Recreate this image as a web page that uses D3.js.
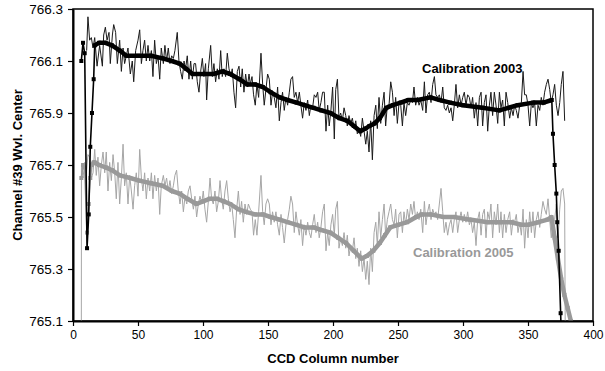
<!DOCTYPE html>
<html>
<head>
<meta charset="utf-8">
<script src="https://cdn.jsdelivr.net/npm/d3@7"></script>
<style>
  body { margin: 0; background: #fff; }
  svg { display: block; font-family: "Liberation Sans", Arial, sans-serif; }
</style>
</head>
<body>
<svg id="chart" width="605" height="371"></svg>
<script>
// x ticks / y ticks
const xTicks = [0, 50, 100, 150, 200, 250, 300, 350, 400];
const yTicks = [765.1, 765.3, 765.5, 765.7, 765.9, 766.1, 766.3];

// Calibration 2003, raw (column, center)
const raw2003 = [
  [10.5,766.14],[11.5,766.27],[12.8,766.18],[14.1,766.19],[15.4,766.15],[16.7,766.19],[18.5,766.08],[20.5,766.16],[22.6,766.08],[23.6,766.20],
  [24.9,766.23],[26.2,766.18],[27.7,766.21],[28.7,766.09],[30.3,766.20],[31.3,766.24],[32.8,766.21],[34.1,766.09],[35.9,766.18],[37.2,766.06],
  [38.5,766.15],[39.7,766.09],[41,766.12],[42.3,766.15],[44.1,766.05],[45.6,766.10],[46.7,766.02],[48.2,766.14],[50,766.18],[51.3,766.22],
  [52.6,766.09],[53.8,766.14],[55.1,766.18],[56.4,766.10],[57.7,766.16],[59,766.10],[60.3,766.14],[61.5,766.04],[62.8,766.18],[64.1,766.09],
  [65.4,766.12],[66.7,766.03],[67.9,766.15],[69.5,766.09],[70.7,766.16],[72,766.10],[73.3,766.15],[74.6,766.09],[75.9,766.12],[77.2,766.11],
  [78.4,766.14],[80.2,766.21],[81.5,766.10],[82.8,766.06],[84.1,766.03],[85.4,766.10],[86.6,766.07],[87.9,766.12],[89.2,766.03],[90.5,766.10],
  [91.8,766.03],[93.1,766.09],[94.3,766.09],[95.6,766.02],[96.9,765.98],[98.2,766.06],[99.5,766.11],[100.7,766.04],[102,766.09],[102.8,765.95],
  [104.1,766.07],[105.9,766.16],[107.2,766.04],[108.4,766.09],[109.7,766.02],[111,766.07],[112.3,766.03],[113.6,766.14],[114.8,766.04],[116.1,766.07],
  [117.4,766.04],[118.7,766.13],[120,766.07],[121.3,766.04],[122.5,766.07],[123.8,765.98],[125.1,765.92],[126.4,766.06],[127.7,766.08],[129,766.00],
  [130.2,766.07],[131.5,765.98],[132.8,766.05],[134.1,766.00],[135.4,766.05],[136.4,766.01],[137.7,766.04],[138.9,765.97],[140.2,765.93],[141.5,766.01],
  [142.8,765.96],[144.6,766.13],[145.9,766.01],[147.1,765.93],[148.4,765.99],[149.7,766.05],[151,766.03],[152.3,765.93],[153.5,765.98],[154.8,765.96],
  [156.1,765.92],[157.4,766.00],[158.7,765.87],[160,765.94],[161.2,765.98],[162.5,765.91],[163.8,765.96],[165.1,765.93],[166.4,765.98],[167.6,766.03],
  [168.9,766.04],[170.2,765.96],[171.5,765.98],[172.8,765.94],[174.1,765.98],[175.3,765.93],[176.6,765.88],[177.9,765.94],[179.2,765.91],[180.5,765.95],
  [181.8,765.89],[183,765.93],[184.3,765.92],[185.6,765.97],[186.9,765.96],[188.2,765.98],[189.4,765.91],[190.7,765.94],[192,765.98],[193.3,765.98],
  [194.6,765.83],[195.9,765.93],[197.1,765.85],[198.4,765.91],[199.7,766.00],[201,765.80],[202.1,765.99],[203.4,766.03],[204.6,765.88],[205.9,765.90],
  [207.2,765.87],[208.5,765.92],[209.8,765.89],[211,765.85],[212.3,765.89],[213.6,765.86],[214.9,765.88],[216.2,765.84],[217.5,765.87],[218.7,765.82],
  [220,765.84],[221.3,765.81],[222.6,765.88],[223.9,765.83],[225.2,765.78],[226.4,765.83],[227.7,765.75],[229,765.87],[230.3,765.72],[231.6,765.89],
  [232.9,765.93],[234.1,765.84],[235.4,765.96],[236.7,765.86],[238,765.93],[239.3,765.98],[240.5,765.85],[241.8,765.93],[243.1,765.93],[244.4,766.02],
  [245.7,765.98],[247,765.89],[248.2,765.96],[249.5,765.86],[250.8,765.94],[252.1,765.93],[253.4,765.85],[254.6,765.94],[255.9,765.89],[257.2,765.94],
  [258.5,765.93],[259.8,765.95],[261.1,765.94],[262.3,766.00],[263.6,765.93],[264.9,765.96],[266.2,765.93],[267.5,765.95],[269,765.91],[270.3,766.02],
  [271.5,765.90],[272.8,765.97],[274.1,765.98],[275.4,765.94],[276.7,766.01],[278,766.04],[279.2,765.97],[280.5,765.96],[281.8,765.97],[283.1,765.94],
  [284.4,766.00],[285.6,765.92],[286.9,765.91],[288.2,765.93],[289.5,765.90],[290.8,765.92],[292.1,765.87],[293.3,765.93],[294.6,766.01],[295.9,765.92],
  [297.2,765.97],[298.5,765.93],[299.8,765.96],[301,765.98],[302.3,765.93],[303.6,765.97],[304.9,765.96],[306.2,765.92],[307.4,765.96],[308.7,765.88],
  [310,765.94],[311.3,765.85],[312.6,765.96],[313.9,765.98],[315.1,765.85],[316.4,765.94],[317.7,765.97],[319,765.83],[320.3,765.93],[321.5,765.98],
  [322.8,765.89],[324.1,765.98],[325.4,765.93],[326.7,765.86],[328,765.98],[329.2,765.92],[330.5,765.95],[331.8,765.85],[333.1,765.98],[334.4,765.94],
  [335.9,765.88],[337.2,765.92],[338.5,765.89],[339.7,765.93],[341,765.91],[342.3,765.88],[343.6,765.93],[344.9,765.94],[346.2,766.06],[347.4,765.97],
  [348.7,765.97],[350,765.93],[351.3,765.85],[352.6,765.94],[353.8,765.92],[355.1,765.94],[356.4,765.85],[357.7,765.93],[359,765.91],[360.2,765.96],
  [361.5,765.93],[362.8,765.98],[364.1,766.01],[365.4,766.03],[366.7,765.99],[367.9,765.94],[369.2,765.97],[370.5,766.01],[371.8,765.93],[373.1,765.89],
  [374.4,765.94],[375.6,766.01],[376.9,766.06],[378.2,765.87]
];

// Calibration 2003, smoothed
const smooth2003 = [
  [6.4,766.10],[7.7,766.17],[9,766.13],[10.8,765.38],[12.1,765.51],[13.3,765.77],[14.6,765.90],[15.9,766.03],[16.7,766.16],[20,766.17],
  [25,766.17],[30,766.16],[36,766.14],[41,766.12],[50,766.12],[60,766.12],[69,766.11],[76,766.10],[82,766.09],[87,766.07],
  [92,766.05],[100,766.05],[108,766.05],[115,766.06],[121,766.05],[128,766.03],[134,766.01],[140,766.01],[146,766.00],[152,765.98],
  [159,765.96],[165,765.95],[172,765.94],[178,765.93],[185,765.92],[191,765.91],[198,765.90],[205,765.88],[211,765.87],[216,765.85],
  [221,765.83],[225,765.84],[228,765.85],[232,765.86],[236,765.88],[241,765.92],[246,765.93],[252,765.94],[258,765.95],[265,765.95],
  [275,765.96],[282,765.95],[290,765.94],[300,765.93],[315,765.92],[328,765.91],[335,765.92],[342,765.93],[354,765.94],[362,765.94],
  [368.3,765.95],[369.2,765.82],[370.5,765.70],[371.8,765.59],[372.5,765.48],[373.6,765.37],[375.1,765.13],[375.4,765.08]
];

// Calibration 2005, raw
const raw2005 = [
  [6.4,765.00],[6.5,765.70],[7.7,765.65],[9,765.71],[10.3,765.67],[11.5,765.74],[12.8,765.73],[14.1,765.65],[15.4,765.67],[16.7,765.76],
  [17.9,765.66],[19.2,765.73],[20.5,765.62],[21.8,765.70],[23.1,765.75],[24.4,765.67],[25.6,765.75],[26.9,765.60],[28.2,765.71],[29.5,765.64],
  [30.8,765.74],[32.1,765.67],[33.3,765.57],[34.6,765.71],[35.9,765.55],[37.2,765.65],[38.5,765.78],[39.7,765.62],[41,765.67],[42.3,765.55],
  [43.6,765.66],[44.9,765.60],[46.2,765.53],[47.4,765.62],[48.7,765.67],[50,765.58],[51.3,765.76],[52.6,765.65],[53.8,765.60],[55.1,765.67],
  [56.4,765.57],[57.7,765.65],[59,765.60],[60.3,765.67],[61.5,765.57],[62.8,765.66],[64.1,765.60],[65.4,765.65],[66.7,765.51],[67.9,765.62],
  [69.5,765.66],[70.7,765.62],[72,765.65],[73.3,765.60],[74.6,765.64],[75.9,765.59],[77.2,765.62],[78.4,765.66],[79.7,765.68],[81,765.60],
  [82.3,765.55],[83.6,765.60],[84.9,765.52],[86.2,765.58],[87.5,765.55],[88.7,765.60],[90,765.62],[91.3,765.57],[92.6,765.53],[93.8,765.58],
  [95.1,765.50],[96.4,765.55],[97.7,765.58],[99,765.55],[100.2,765.60],[101.5,765.53],[102.8,765.48],[104.1,765.56],[105.4,765.65],[106.6,765.57],
  [107.9,765.55],[109.2,765.60],[110.5,765.52],[111.8,765.56],[113.1,765.64],[114.3,765.57],[115.6,765.53],[116.9,765.60],[118.2,765.64],[119.5,765.57],
  [120.8,765.52],[122.1,765.55],[123.3,765.49],[124.6,765.42],[125.9,765.53],[127.2,765.60],[128.5,765.51],[129.7,765.56],[131,765.48],[132.3,765.55],
  [133.6,765.51],[134.9,765.55],[136.4,765.53],[137.7,765.52],[138.9,765.43],[140.2,765.49],[141.5,765.43],[142.8,765.52],[144.6,765.66],[145.9,765.52],
  [147.1,765.47],[148.4,765.55],[149.7,765.57],[151,765.55],[152.3,765.47],[153.5,765.52],[154.8,765.48],[156.1,765.52],[157.4,765.47],[158.7,765.43],
  [160,765.51],[161.2,765.46],[162.5,765.40],[163.8,765.47],[165.1,765.49],[166.4,765.53],[167.6,765.58],[168.9,765.55],[170.2,765.44],[171.5,765.52],
  [172.8,765.47],[174.1,765.43],[175.3,765.49],[176.6,765.39],[177.9,765.47],[179.2,765.43],[180.5,765.48],[181.8,765.44],[183,765.42],[184.3,765.47],
  [185.6,765.51],[186.9,765.44],[188.2,765.48],[189.4,765.42],[190.7,765.46],[192,765.52],[193.3,765.55],[194.6,765.37],[195.9,765.44],[197.1,765.39],
  [198.4,765.47],[199.7,765.51],[201,765.43],[202.1,765.53],[203.4,765.56],[204.6,765.38],[205.9,765.42],[207.2,765.39],[208.5,765.44],[209.8,765.38],
  [211,765.43],[212.3,765.35],[213.6,765.39],[214.9,765.37],[216.2,765.42],[217.5,765.34],[218.7,765.38],[220,765.31],[221.3,765.37],[222.6,765.29],
  [223.9,765.34],[225.2,765.26],[226.4,765.33],[227.7,765.24],[229,765.38],[230.3,765.29],[231.6,765.44],[232.9,765.48],[234.1,765.39],[235.4,765.52],
  [236.7,765.42],[238,765.49],[239.3,765.55],[240.5,765.43],[241.8,765.49],[243.1,765.52],[244.4,765.55],[245.7,765.49],[247,765.47],[248.2,765.53],
  [249.5,765.42],[250.8,765.51],[252.1,765.52],[253.4,765.44],[254.6,765.52],[255.9,765.47],[257.2,765.53],[258.5,765.49],[259.8,765.55],[261.1,765.51],
  [262.3,765.56],[263.6,765.49],[264.9,765.52],[266.2,765.49],[267.5,765.53],[269,765.44],[270.3,765.56],[271.5,765.47],[272.8,765.52],[274.1,765.55],
  [275.4,765.49],[276.7,765.53],[278,765.51],[279.2,765.52],[280.5,765.49],[281.8,765.55],[283.1,765.61],[284.4,765.52],[285.6,765.44],[286.9,765.48],
  [288.2,765.43],[289.5,765.47],[290.8,765.49],[292.1,765.44],[293.3,765.49],[294.6,765.52],[295.9,765.44],[297.2,765.49],[298.5,765.52],[299.8,765.48],
  [301,765.51],[302.3,765.48],[303.6,765.52],[304.9,765.47],[306.2,765.49],[307.4,765.44],[308.7,765.48],[310,765.39],[311.3,765.49],[312.6,765.52],
  [313.9,765.43],[315.1,765.51],[316.4,765.53],[317.7,765.42],[319,765.52],[320.3,765.49],[321.5,765.55],[322.8,765.42],[324.1,765.52],[325.4,765.47],
  [326.7,765.55],[328,765.44],[329.2,765.52],[330.5,765.42],[331.8,765.51],[333.1,765.44],[334.4,765.49],[335.9,765.52],[337.2,765.43],[338.5,765.49],
  [339.7,765.48],[341,765.51],[342.3,765.44],[343.6,765.48],[344.9,765.43],[346.2,765.53],[347.4,765.38],[348.7,765.49],[350,765.42],[351.3,765.52],
  [352.6,765.44],[353.8,765.52],[355.1,765.42],[356.4,765.49],[357.7,765.52],[359,765.46],[360.2,765.51],[361.5,765.56],[362.8,765.53],[364.1,765.51],
  [365.4,765.57],[366.7,765.49],[367.9,765.42],[369.2,765.47],[370.5,765.49],[371.8,765.55],[373.1,765.42],[374.4,765.53],[375.6,765.60],[376.9,765.61],
  [378.2,765.55],[378.7,765.00]
];

// Calibration 2005, smoothed
const smooth2005 = [
  [6.4,765.65],[7.7,765.70],[9,765.69],[10.8,765.44],[12.1,765.55],[13.3,765.65],[14.6,765.70],[15.9,765.71],[16.7,765.71],[20,765.70],
  [25.6,765.69],[30,765.68],[36,765.66],[44,765.65],[51,765.64],[60,765.63],[69,765.62],[76,765.60],[82,765.59],[88,765.57],
  [95,765.55],[100,765.56],[105,765.57],[111,765.57],[116,765.56],[121,765.55],[127,765.53],[133,765.52],[140,765.51],[146,765.51],
  [152,765.50],[159,765.49],[165,765.48],[172,765.47],[178,765.46],[185,765.46],[191,765.45],[198,765.44],[204,765.42],[210,765.40],
  [216,765.37],[222,765.34],[226,765.35],[231,765.37],[236,765.40],[240,765.43],[244,765.46],[250,765.47],[257,765.48],[264,765.50],
  [268,765.51],[275,765.51],[285,765.50],[293,765.50],[305,765.49],[319,765.48],[328,765.48],[337,765.48],[345,765.47],[350,765.47],
  [358,765.48],[365,765.49],[368,765.50],[370.5,765.42],[373,765.34],[375.6,765.26],[378,765.20],[380.5,765.15],[383,765.10]
];

const W = 605, H = 371;
const margin = {top: 9, right: 12, bottom: 50, left: 73};

const svg = d3.select('#chart');

const x = d3.scaleLinear().domain([0, 400]).range([margin.left, W - margin.right]);
const y = d3.scaleLinear().domain([765.1, 766.3]).range([H - margin.bottom, margin.top]);

svg.append('defs').append('clipPath')
  .attr('id', 'plot-clip')
  .append('rect')
  .attr('x', margin.left)
  .attr('y', margin.top)
  .attr('width', W - margin.left - margin.right)
  .attr('height', H - margin.top - margin.bottom);

// frame (top + right)
svg.append('rect')
  .attr('x', margin.left)
  .attr('y', margin.top)
  .attr('width', W - margin.left - margin.right)
  .attr('height', H - margin.top - margin.bottom)
  .attr('fill', 'none')
  .attr('stroke', '#000')
  .attr('stroke-width', 1.5);

const line = d3.line()
  .x(d => x(d[0]))
  .y(d => y(d[1]));

const gPlot = svg.append('g').attr('clip-path', 'url(#plot-clip)');

// series drawn gray first, black on top; the dense marker band is
// emulated by a wide stroke over [bandFrom, bandTo]
const series = [
  {raw: raw2005, smooth: smooth2005, thin: '#a6a6a6', thick: '#999999', bandFrom: 14.6, bandTo: 383, bandW: 4.5},
  {raw: raw2003, smooth: smooth2003, thin: '#1a1a1a', thick: '#000000', bandFrom: 16.7, bandTo: 368.3, bandW: 4.5}
];

series.forEach(s => {
  gPlot.append('path')
    .datum(s.raw)
    .attr('d', line)
    .attr('fill', 'none')
    .attr('stroke', s.thin)
    .attr('stroke-width', 1)
    .attr('stroke-linejoin', 'miter');

  gPlot.append('path')
    .datum(s.smooth)
    .attr('d', line)
    .attr('fill', 'none')
    .attr('stroke', s.thick)
    .attr('stroke-width', 1.6);

  gPlot.append('path')
    .datum(s.smooth.filter(d => d[0] >= s.bandFrom && d[0] <= s.bandTo))
    .attr('d', line)
    .attr('fill', 'none')
    .attr('stroke', s.thick)
    .attr('stroke-width', s.bandW)
    .attr('stroke-linejoin', 'round');

  gPlot.selectAll(null)
    .data(s.smooth)
    .enter()
    .append('rect')
    .attr('x', d => x(d[0]) - 2)
    .attr('y', d => y(d[1]) - 2)
    .attr('width', 4)
    .attr('height', 4)
    .attr('fill', s.thick);
});

// axes
const xAxis = svg.append('g')
  .attr('transform', `translate(0,${H - margin.bottom})`)
  .call(d3.axisBottom(x).tickValues(xTicks).tickSize(5).tickSizeOuter(0).tickPadding(4));

const yAxis = svg.append('g')
  .attr('transform', `translate(${margin.left},0)`)
  .call(d3.axisLeft(y).tickValues(yTicks).tickSize(5).tickSizeOuter(0).tickPadding(5)
    .tickFormat(d3.format('.1f')));

[xAxis, yAxis].forEach(g => {
  g.select('.domain').attr('stroke', '#000').attr('stroke-width', 2);
  g.selectAll('.tick line').attr('stroke', '#000').attr('stroke-width', 1.2);
  g.selectAll('.tick text')
    .attr('fill', '#000')
    .style('font-family', '"Liberation Sans", Arial, sans-serif');
});
xAxis.selectAll('.tick text').style('font-size', '12px');
yAxis.selectAll('.tick text').style('font-size', '13.5px');

// axis titles
svg.append('text')
  .attr('x', (margin.left + W - margin.right) / 2)
  .attr('y', 363)
  .attr('text-anchor', 'middle')
  .style('font-weight', 'bold')
  .style('font-size', '13px')
  .text('CCD Column number');

svg.append('text')
  .attr('transform', `translate(21.5,${(margin.top + H - margin.bottom) / 2}) rotate(-90)`)
  .attr('text-anchor', 'middle')
  .style('font-weight', 'bold')
  .style('font-size', '13px')
  .text('Channel #39 Wvl. Center');

// series labels
svg.append('text')
  .attr('x', 422)
  .attr('y', 73)
  .style('font-weight', 'bold')
  .style('font-size', '13px')
  .attr('fill', '#000')
  .text('Calibration 2003');

svg.append('text')
  .attr('x', 413)
  .attr('y', 256.5)
  .style('font-weight', 'bold')
  .style('font-size', '13px')
  .attr('fill', '#999999')
  .text('Calibration 2005');
</script>
</body>
</html>
